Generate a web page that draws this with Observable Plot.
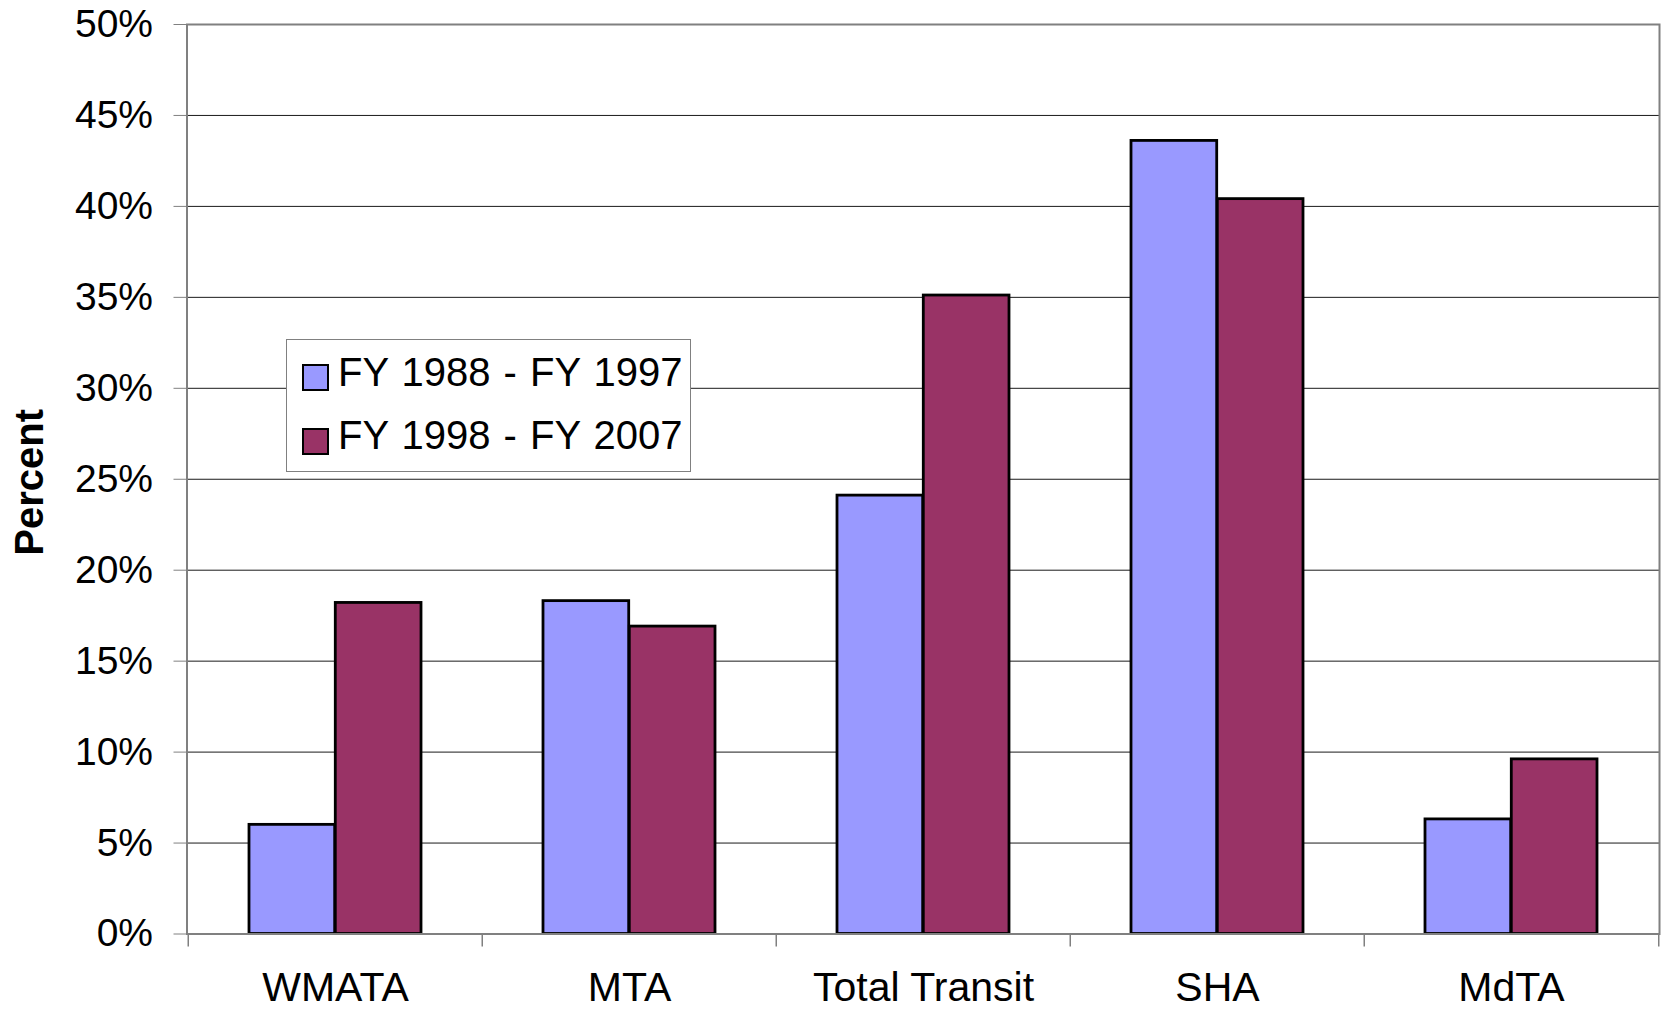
<!DOCTYPE html>
<html>
<head>
<meta charset="utf-8">
<script src="https://cdn.jsdelivr.net/npm/d3@7"></script>
<script src="https://cdn.jsdelivr.net/npm/@observablehq/plot@0.6"></script>
<style>
  html, body { margin: 0; padding: 0; background: #fff; overflow: hidden; }
  #wrap { position: relative; width: 1661px; height: 1009px; font-family: "Liberation Sans", Arial, sans-serif; }
  #legend { position: absolute; background: #fff; border: 1px solid #808080; box-sizing: border-box; }
  .sw { position: absolute; box-sizing: border-box; border: 2.5px solid #000; }
  .lt { position: absolute; font-size: 40px; line-height: normal; color: #000; white-space: pre; word-spacing: 2px; }
</style>
</head>
<body>
<div id="wrap"></div>
<script>
// ---- data ----
const categories = ["WMATA", "MTA", "Total Transit", "SHA", "MdTA"];
const seriesNames = ["FY 1988 - FY 1997", "FY 1998 - FY 2007"];
const period1 = [6.0, 18.3, 24.1, 43.6, 6.3];
const period2 = [18.2, 16.9, 35.1, 40.4, 9.6];
const seriesColors = ["#9999FF", "#993366"];
const yTicks = [0, 5, 10, 15, 20, 25, 30, 35, 40, 45, 50];
const yTitle = "Percent";

// ---- layout ----
const W = 1661, H = 1009;
const mL = 186.5, mR = 2, mT = 24, mB = 75.5;
const padIn = 0.414, padOut = 0.207;
const step = (W - mL - mR) / (categories.length - padIn + 2 * padOut);
const bw = step * (1 - padIn);

const rows1 = categories.map((c, i) => ({category: c, value: period1[i]}));
const rows2 = categories.map((c, i) => ({category: c, value: period2[i]}));

const chart = Plot.plot({
  width: W,
  height: H,
  marginLeft: mL,
  marginRight: mR,
  marginTop: mT,
  marginBottom: mB,
  style: {fontFamily: '"Liberation Sans", Arial, sans-serif', background: "#fff", color: "#000"},
  x: {domain: categories, paddingInner: padIn, paddingOuter: padOut, label: null},
  y: {domain: [0, 50], label: null},
  marks: [
    Plot.ruleY(yTicks.filter(d => d > 0 && d < 50), {stroke: "#1a1a1a", strokeWidth: 1}),
    Plot.barY(rows1, {x: "category", y: "value", fill: seriesColors[0], stroke: "#000", strokeWidth: 2.8, insetRight: bw / 2}),
    Plot.barY(rows2, {x: "category", y: "value", fill: seriesColors[1], stroke: "#000", strokeWidth: 2.8, insetLeft: bw / 2}),
    Plot.frame({stroke: "#808080", strokeWidth: 2}),
    Plot.ruleX(categories, {x: d => d, dx: -step / 2, y1: 0, y2: 0, insetBottom: -13, stroke: "#808080", strokeWidth: 1.5}),
    Plot.ruleX([categories[categories.length - 1]], {x: d => d, dx: step / 2, y1: 0, y2: 0, insetBottom: -13, stroke: "#808080", strokeWidth: 1.5}),
    Plot.axisY({ticks: yTicks, tickFormat: d => d + "%", tickSize: 13, tickPadding: 21, fontSize: 39, stroke: "#808080", fill: "#000", label: null}),
    Plot.axisX({tickSize: 0, tickPadding: 38, fontSize: 41, fill: "#000", label: null}),
    Plot.text([yTitle], {text: d => d, frameAnchor: "left", textAnchor: "middle", rotate: -90, dx: -157, dy: 3, fontSize: 40, fontWeight: "bold", fill: "#000"})
  ]
});

const wrap = document.getElementById("wrap");
wrap.appendChild(chart);

// ---- legend (overlay) ----
const legend = document.createElement("div");
legend.id = "legend";
Object.assign(legend.style, {left: "286px", top: "339px", width: "405px", height: "133px"});
const swTops = [24, 88];
const txtTops = [9.5, 72.5];
seriesNames.forEach((name, i) => {
  const sw = document.createElement("div");
  sw.className = "sw";
  Object.assign(sw.style, {left: "15px", top: swTops[i] + "px", width: "27px", height: "27px", background: seriesColors[i]});
  legend.appendChild(sw);
  const t = document.createElement("div");
  t.className = "lt";
  t.textContent = name;
  Object.assign(t.style, {left: "51px", top: txtTops[i] + "px"});
  legend.appendChild(t);
});
wrap.appendChild(legend);
</script>
</body>
</html>
